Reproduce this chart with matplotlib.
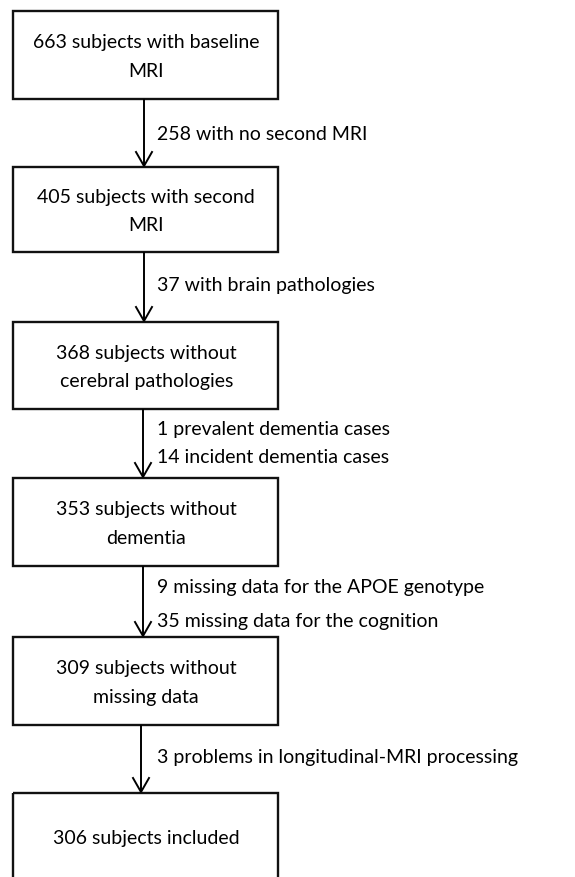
import matplotlib
matplotlib.use("Agg")
import matplotlib.pyplot as plt
from matplotlib.patches import Rectangle

# ---- data ----
box_counts = [663, 405, 368, 353, 309, 306]
box_labels = [
    "663 subjects with baseline\nMRI",
    "405 subjects with second\nMRI",
    "368 subjects without\ncerebral pathologies",
    "353 subjects without\ndementia",
    "309 subjects without\nmissing data",
    "306 subjects included",
]
exclusion_labels = [
    ["258 with no second MRI"],
    ["37 with brain pathologies"],
    ["1 prevalent dementia cases", "14 incident dementia cases"],
    ["9 missing data for the APOE genotype", "35 missing data for the cognition"],
    ["3 problems in longitudinal-MRI processing"],
]

# ---- layout (pixel space) ----
W, H = 575, 878
box_left, box_right = 12.5, 278
box_tops = [12, 168, 323, 479, 638, 794]
box_bottoms = [100, 253, 410, 567, 726, 905]
arrow_x = [144, 144, 143, 143, 141]
excl_y = [[134], [286], [430], [458], [588, 622], [758]]
excl_y = [[134], [286], [430, 458], [588, 622], [758]]
line_gap = 28.5
FONT = ["Lato", "DejaVu Sans"]
FS = 14

fig = plt.figure(figsize=(W / 100, H / 100), dpi=100)
ax = fig.add_axes([0, 0, 1, 1])
ax.set_xlim(0, W)
ax.set_ylim(H, 0)
ax.axis("off")

for i, label in enumerate(box_labels):
    top, bot = box_tops[i], box_bottoms[i]
    ax.add_patch(Rectangle((box_left, top), box_right - box_left, bot - top,
                           fill=False, edgecolor="#111111", linewidth=1.7))
    lines = label.split("\n")
    if i < len(box_labels) - 1:
        cy = (top + bot) / 2 + 1
    else:
        cy = 839
    n = len(lines)
    for j, ln in enumerate(lines):
        y = cy + (j - (n - 1) / 2) * line_gap
        ax.text((box_left + box_right) / 2 + 1, y, ln, ha="center", va="center",
                fontsize=FS, family=FONT, color="black")

for i in range(len(exclusion_labels)):
    x = arrow_x[i]
    y0 = box_bottoms[i]
    y1 = box_tops[i + 1]
    ax.plot([x, x], [y0, y1 - 1], color="black", linewidth=1.4, solid_capstyle="butt")
    ax.plot([x - 8, x, x + 8], [y1 - 15, y1 - 1, y1 - 15], color="black",
            linewidth=1.4, solid_joinstyle="miter")
    for txt, y in zip(exclusion_labels[i], excl_y[i]):
        ax.text(157, y, txt, ha="left", va="center", fontsize=FS, family=FONT,
                color="black")

fig.savefig("out.png", dpi=100, facecolor="white")
